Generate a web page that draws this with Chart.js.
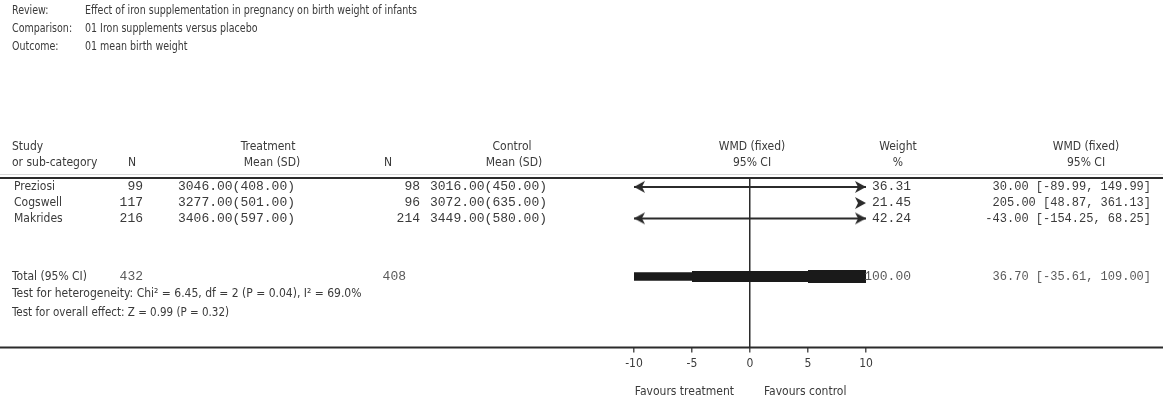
<!DOCTYPE html>
<html>
<head>
<meta charset="utf-8">
<script src="https://cdn.jsdelivr.net/npm/chart.js@4/dist/chart.umd.min.js"></script>
<style>
  body { margin: 0; background: #fff; }
  #wrap { width: 1163px; height: 403px; }
</style>
</head>
<body>
<div id="wrap"><canvas id="forest" width="1163" height="403"></canvas></div>
<script>
// study data
const studies = ['Preziosi', 'Cogswell', 'Makrides'];
const treatN = [99, 117, 216];
const treatMean = [3046.00, 3277.00, 3406.00];
const treatSD = [408.00, 501.00, 597.00];
const ctrlN = [98, 96, 214];
const ctrlMean = [3016.00, 3072.00, 3449.00];
const ctrlSD = [450.00, 635.00, 580.00];
const weights = [36.31, 21.45, 42.24];
const wmd = [30.00, 205.00, -43.00];
const ciLow = [-89.99, 48.87, -154.25];
const ciHigh = [149.99, 361.13, 68.25];

// pooled result
const totalTreatN = 432;
const totalCtrlN = 408;
const totalWeight = 100.00;
const totalWmd = 36.70;
const totalLow = -35.61;
const totalHigh = 109.00;

const xTicks = [-10, -5, 0, 5, 10];
const rowY = [0.55, 1.55, 2.5];
const totalY = 6.1;
const hetY = 7.2;
const overallY = 8.35;

const headerLines = [
    ['Review:', 'Effect of iron supplementation in pregnancy on birth weight of infants'],
    ['Comparison:', '01 Iron supplements versus placebo'],
    ['Outcome:', '01 mean birth weight']
];
const hetText = 'Test for heterogeneity: Chi\u00B2 = 6.45, df = 2 (P = 0.04), I\u00B2 = 69.0%';
const overallText = 'Test for overall effect: Z = 0.99 (P = 0.32)';

const xMin = xTicks[0];
const xMax = xTicks[xTicks.length - 1];
const SANS = "'Liberation Sans Narrow', 'DejaVu Sans Condensed', 'Liberation Sans', sans-serif";
const MONO = "'Liberation Mono', 'DejaVu Sans Mono', monospace";
const INK = '#2b2b2b';
const TXT = '#3a3a3a';

const fmt = v => v.toFixed(2);

// arrow head image: tip sits at the centre so it ends exactly on the axis limit
const arrowImg = document.createElement('canvas');
arrowImg.width = 24;
arrowImg.height = 14;
(() => {
    const c = arrowImg.getContext('2d');
    c.fillStyle = INK;
    c.beginPath();
    c.moveTo(12, 7);
    c.lineTo(1, 1);
    c.lineTo(4, 7);
    c.lineTo(1, 13);
    c.closePath();
    c.fill();
})();

// CI lines and arrow heads, clipped to the visible axis
const datasets = [];
const arrowPts = [];
studies.forEach((s, i) => {
    const lo = Math.max(ciLow[i], xMin);
    const hi = Math.min(ciHigh[i], xMax);
    if (lo < hi) {
        datasets.push({
            type: 'line',
            data: [{ x: lo, y: rowY[i] }, { x: hi, y: rowY[i] }],
            borderColor: INK,
            borderWidth: 2,
            pointRadius: 0
        });
    }
    if (ciLow[i] < xMin) arrowPts.push({ x: xMin, y: rowY[i], rot: 180 });
    if (ciHigh[i] > xMax) arrowPts.push({ x: xMax, y: rowY[i], rot: 0 });
});
datasets.push({
    type: 'scatter',
    data: arrowPts,
    pointStyle: arrowImg,
    pointRotation: arrowPts.map(p => p.rot),
    clip: false
});

// pooled diamond, clipped to the axis: drawn in three steps like the original
const diamondH = 22;
const diamondFrac = x => {
    const half = x < totalWmd ? totalWmd - totalLow : totalHigh - totalWmd;
    return Math.max(0, 1 - Math.abs(x - totalWmd) / half);
};
const steps = [[xTicks[0], xTicks[1]], [xTicks[1], xTicks[3]], [xTicks[3], xTicks[4]]];
steps.forEach(([a, b]) => {
    datasets.push({
        type: 'line',
        data: [{ x: a, y: totalY }, { x: b, y: totalY }],
        borderColor: '#1a1a1a',
        borderWidth: diamondH * diamondFrac((a + b) / 2),
        borderCapStyle: 'butt',
        pointRadius: 0,
        clip: false
    });
});

const textPlugin = {
    id: 'forestText',
    afterDraw(chart) {
        const ctx = chart.ctx;
        const ys = chart.scales.y;
        const xs = chart.scales.x;
        const W = chart.width;
        ctx.save();
        ctx.textBaseline = 'middle';
        const put = (t, x, y, al) => { ctx.textAlign = al; ctx.fillText(t, x, y); };

        // top info block, a narrow face like the original
        ctx.fillStyle = TXT;
        ctx.font = '12px ' + SANS;
        ctx.save();
        ctx.scale(0.88, 1);
        headerLines.forEach((l, i) => {
            put(l[0], 12 / 0.88, 11 + i * 18, 'left');
            put(l[1], 85 / 0.88, 11 + i * 18, 'left');
        });
        ctx.restore();

        // column headers
        const h1 = 147, h2 = 163;
        put('Study', 12, h1, 'left');
        put('or sub-category', 12, h2, 'left');
        put('N', 132, h2, 'center');
        put('Treatment', 268, h1, 'center');
        put('Mean (SD)', 272, h2, 'center');
        put('N', 388, h2, 'center');
        put('Control', 512, h1, 'center');
        put('Mean (SD)', 514, h2, 'center');
        put('WMD (fixed)', 752, h1, 'center');
        put('95% CI', 752, h2, 'center');
        put('Weight', 898, h1, 'center');
        put('%', 898, h2, 'center');
        put('WMD (fixed)', 1086, h1, 'center');
        put('95% CI', 1086, h2, 'center');

        // horizontal rules
        ctx.strokeStyle = INK;
        ctx.lineWidth = 2;
        ctx.beginPath();
        ctx.moveTo(0, chart.chartArea.top);
        ctx.lineTo(W, chart.chartArea.top);
        ctx.moveTo(0, chart.chartArea.bottom);
        ctx.lineTo(W, chart.chartArea.bottom);
        ctx.stroke();
        ctx.strokeStyle = 'rgba(0,0,0,0.15)';
        ctx.lineWidth = 1;
        ctx.beginPath();
        ctx.moveTo(0, chart.chartArea.top - 3.5);
        ctx.lineTo(W, chart.chartArea.top - 3.5);
        ctx.stroke();

        // study rows
        studies.forEach((s, i) => {
            const y = ys.getPixelForValue(rowY[i]);
            ctx.font = '12px ' + SANS;
            put(s, 14, y, 'left');
            ctx.font = '13px ' + MONO;
            put(String(treatN[i]), 143, y, 'right');
            put(fmt(treatMean[i]) + '(' + fmt(treatSD[i]) + ')', 178, y, 'left');
            put(String(ctrlN[i]), 420, y, 'right');
            put(fmt(ctrlMean[i]) + '(' + fmt(ctrlSD[i]) + ')', 430, y, 'left');
            put(fmt(weights[i]), 911, y, 'right');
            ctx.font = '12px ' + MONO;
            put(fmt(wmd[i]) + ' [' + fmt(ciLow[i]) + ', ' + fmt(ciHigh[i]) + ']', 1151, y, 'right');
        });

        // total row
        const ty = ys.getPixelForValue(totalY);
        ctx.font = '12px ' + SANS;
        put('Total (95% CI)', 12, ty, 'left');
        ctx.fillStyle = '#5a5a5a';
        ctx.font = '13px ' + MONO;
        put(String(totalTreatN), 143, ty, 'right');
        put(String(totalCtrlN), 406, ty, 'right');
        put(fmt(totalWeight), 911, ty, 'right');
        ctx.font = '12px ' + MONO;
        put(fmt(totalWmd) + ' [' + fmt(totalLow) + ', ' + fmt(totalHigh) + ']', 1151, ty, 'right');

        ctx.fillStyle = TXT;
        ctx.font = '12px ' + SANS;
        put(hetText, 12, ys.getPixelForValue(hetY), 'left');
        ctx.font = '11.5px ' + SANS;
        put(overallText, 12, ys.getPixelForValue(overallY), 'left');

        // favours labels
        ctx.font = '12px ' + SANS;
        const zx = xs.getPixelForValue(0);
        put('Favours treatment', zx - 16, chart.height - 11, 'right');
        put('Favours control', zx + 14, chart.height - 11, 'left');
        ctx.restore();
    }
};

new Chart(document.getElementById('forest'), {
    type: 'scatter',
    data: { datasets },
    options: {
        responsive: false,
        devicePixelRatio: 1,
        animation: false,
        layout: { padding: { left: 634, right: 297, top: 178, bottom: 28 } },
        plugins: {
            legend: { display: false },
            tooltip: { enabled: false }
        },
        scales: {
            x: {
                type: 'linear',
                min: xMin,
                max: xMax,
                afterBuildTicks: axis => { axis.ticks = xTicks.map(v => ({ value: v })); },
                border: { display: false },
                grid: {
                    color: c => c.tick && c.tick.value === 0 ? INK : 'rgba(0,0,0,0)',
                    lineWidth: 1.5,
                    tickColor: '#555',
                    tickLength: 5
                },
                ticks: {
                    color: TXT,
                    font: { family: SANS, size: 12 },
                    padding: 4
                }
            },
            y: {
                type: 'linear',
                display: false,
                reverse: true,
                min: 0,
                max: 10.5
            }
        }
    },
    plugins: [textPlugin]
});
</script>
</body>
</html>
